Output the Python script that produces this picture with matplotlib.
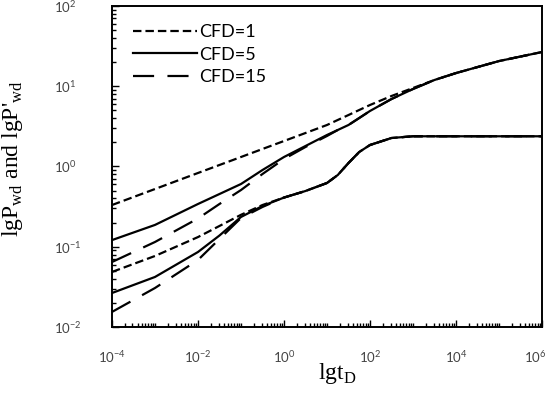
import matplotlib
matplotlib.use('Agg')
import matplotlib.pyplot as plt
import matplotlib.transforms as mtransforms
from matplotlib.ticker import LogLocator, NullFormatter

plt.rcParams['font.family'] = ['Lato', 'DejaVu Sans']

# dimensionless time
t_d = [1e-4, 1e-3, 1e-2, 3.16e-2, 1e-1, 3.16e-1, 1, 3.16, 10, 17.8, 31.6,
       56.2, 100, 316, 1e3, 3.16e3, 1e4, 1e5, 1e6]

# pressure curves
p_cfd1 = [0.331, 0.524, 0.830, 1.044, 1.313, 1.652, 2.078, 2.614, 3.29, 3.80,
          4.38, 5.06, 5.84, 7.56, 9.51, 11.97, 14.6, 20.6, 26.7]
p_cfd5 = [0.121, 0.187, 0.341, 0.454, 0.605, 0.904, 1.313, 1.80, 2.47, 2.85,
          3.29, 4.02, 4.92, 6.93, 9.24, 11.97, 14.6, 20.6, 26.7]
p_cfd15 = [0.0645, 0.1146, 0.225, 0.341, 0.509, 0.806, 1.240, 1.750, 2.40, 2.85,
           3.29, 4.02, 4.92, 6.93, 9.24, 11.97, 14.6, 20.6, 26.7]

# pressure derivative curves
d_cfd1 = [0.0485, 0.0767, 0.132, 0.1815, 0.25, 0.331, 0.41, 0.495, 0.623, 0.783,
          1.105, 1.516, 1.853, 2.265, 2.38, 2.38, 2.38, 2.38, 2.38]
d_cfd5 = [0.0265, 0.042, 0.086, 0.138, 0.235, 0.322, 0.41, 0.495, 0.623, 0.783,
          1.105, 1.516, 1.853, 2.265, 2.38, 2.38, 2.38, 2.38, 2.38]
d_cfd15 = [0.0154, 0.0306, 0.0684, 0.125, 0.228, 0.313, 0.41, 0.495, 0.623, 0.783,
           1.105, 1.516, 1.853, 2.265, 2.38, 2.38, 2.38, 2.38, 2.38]

short_dash = (0, (3.8, 1.8))
long_dash = (0, (9.5, 6))
lw = 1.6

fig = plt.figure(figsize=(5.5, 3.95), dpi=100)
ax = fig.add_axes([0.2036, 0.1722, 0.7819, 0.8126])

ax.loglog(t_d, p_cfd1, color='black', lw=lw, linestyle=short_dash, label='CFD=1')
ax.loglog(t_d, p_cfd5, color='black', lw=lw, linestyle='-', label='CFD=5')
ax.loglog(t_d, p_cfd15, color='black', lw=lw, linestyle=long_dash, label='CFD=15')
ax.loglog(t_d, d_cfd1, color='black', lw=lw, linestyle=short_dash)
ax.loglog(t_d, d_cfd5, color='black', lw=lw, linestyle='-')
ax.loglog(t_d, d_cfd15, color='black', lw=lw, linestyle=long_dash)

ax.set_xlim(1e-4, 1e6)
ax.set_ylim(1e-2, 1e2)

ax.set_xticks([1e-4, 1e-2, 1e0, 1e2, 1e4, 1e6])
ax.xaxis.set_minor_locator(LogLocator(base=10, subs=range(1, 10), numticks=40))
ax.xaxis.set_minor_formatter(NullFormatter())
ax.yaxis.set_major_locator(LogLocator(base=10, numticks=20))
ax.yaxis.set_minor_locator(LogLocator(base=10, subs=range(2, 10), numticks=40))
ax.yaxis.set_minor_formatter(NullFormatter())

ax.tick_params(which='both', direction='in', top=False, right=False,
               colors='black', labelcolor='#444444', labelsize=9.5, width=1)
ax.tick_params(which='major', length=5)
ax.tick_params(which='minor', length=3)
ax.tick_params(axis='x', which='major', pad=16)
ax.tick_params(axis='y', which='major', pad=42)
for lab in ax.get_yticklabels():
    lab.set_horizontalalignment('left')

for sp in ax.spines.values():
    sp.set_linewidth(1.4)

ax.set_xlabel(r'lgt$_{\mathdefault{D}}$', fontfamily='Liberation Serif',
              fontsize=17)
ax.set_ylabel(r"lgP$_{\mathdefault{wd}}$ and lgP'$_{\mathdefault{wd}}$",
              fontfamily='Liberation Serif', fontsize=17)
ax.xaxis.set_label_coords(0.523, -0.107)
ax.yaxis.set_label_coords(-0.203, 0.523)

ax.legend(loc='upper left', frameon=False, fontsize=13, handlelength=3.55,
          handletextpad=0.1, labelspacing=0.35, bbox_to_anchor=(0.033, 0.965),
          borderaxespad=0)

# keep the last x label inside the figure
last = ax.get_xticklabels()[-1]
last.set_transform(last.get_transform() +
                   mtransforms.ScaledTranslation(-5 / 72, 0, fig.dpi_scale_trans))

fig.savefig('out.png', dpi=100)
